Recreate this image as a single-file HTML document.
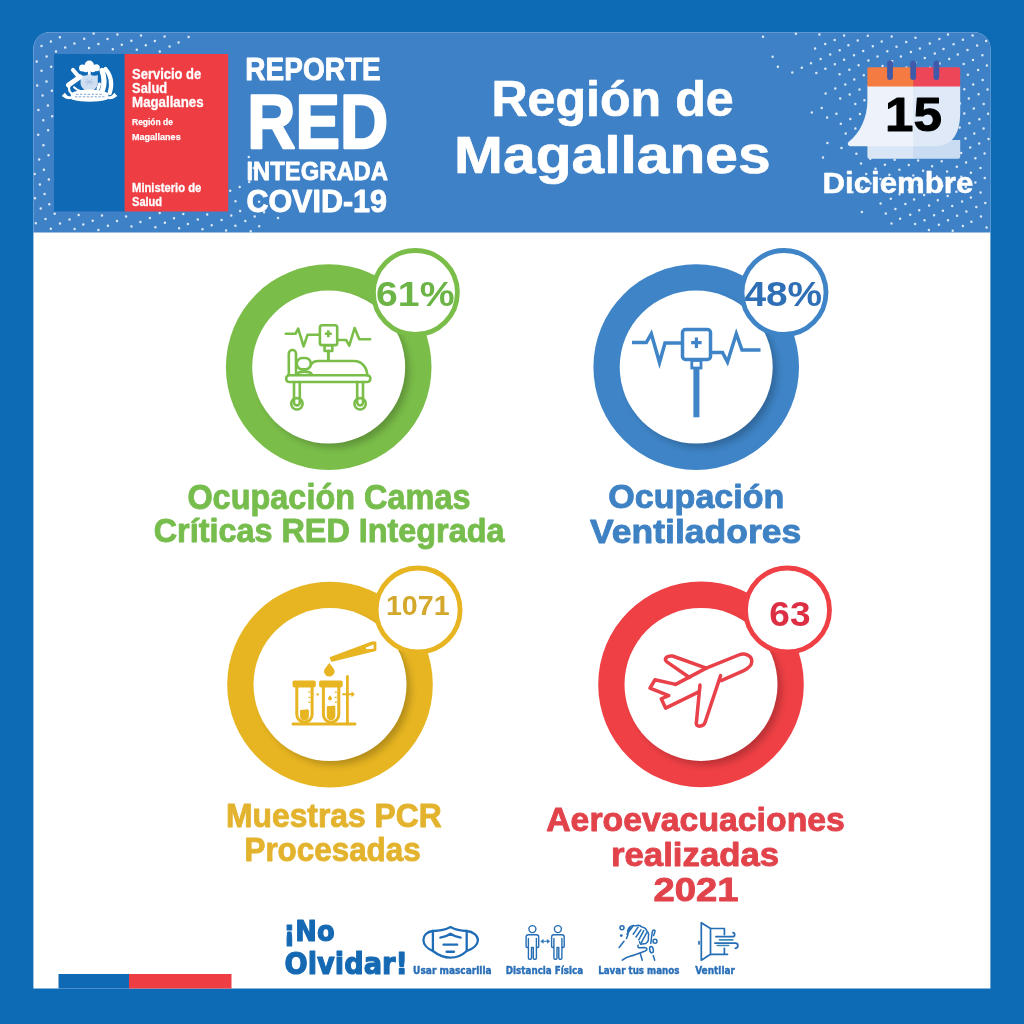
<!DOCTYPE html>
<html lang="es"><head><meta charset="utf-8"><title>Reporte RED Integrada COVID-19</title>
<style>
html,body{margin:0;padding:0;background:#0d6bb6;}
body{width:1024px;height:1024px;overflow:hidden;font-family:'Liberation Sans', sans-serif;}
svg{display:block;font-family:'Liberation Sans', sans-serif;}
</style></head><body>
<svg width="1024" height="1024" viewBox="0 0 1024 1024">
<defs>
<filter id="sh" x="-30%" y="-30%" width="160%" height="160%"><feGaussianBlur stdDeviation="3.5"/></filter>
<clipPath id="card"><path d="M33.400 988.600V48.300a16 16 0 0 1 16-16H974.400a16 16 0 0 1 16 16V988.600z"/></clipPath>
</defs>
<rect width="1024" height="1024" fill="#0d6bb6"/>
<g clip-path="url(#card)">
<rect x="33" y="32" width="958" height="957" fill="#fff"/>
<rect x="33" y="32" width="958" height="200.500" fill="#3e81c7"/>
<path d="M188.6 37.1h0M248.8 157.1h0M253.7 167.9h0M278.0 217.9h0M178.6 42.4h0M249.2 182.1h0M259.1 201.7h0M264.1 212.2h0M164.6 36.5h0M169.6 46.4h0M239.7 186.9h0M249.9 206.9h0M254.7 216.6h0M259.2 226.2h0M154.9 40.9h0M159.8 51.4h0M230.2 190.7h0M235.5 201.3h0M240.1 211.1h0M245.3 221.1h0M250.7 231.3h0M141.0 35.4h0M145.8 45.2h0M231.3 215.6h0M235.4 225.8h0M131.4 40.7h0M136.8 49.8h0M221.6 219.9h0M226.1 230.4h0M117.4 34.6h0M121.8 44.7h0M207.2 214.5h0M211.7 225.2h0M107.5 38.9h0M112.8 49.2h0M197.8 219.4h0M202.5 229.2h0M93.7 33.6h0M98.4 44.0h0M183.3 213.9h0M187.9 224.0h0M84.2 38.7h0M89.0 48.0h0M174.0 218.3h0M179.1 228.3h0M74.4 43.4h0M159.7 213.1h0M164.9 222.7h0M59.9 37.3h0M65.2 47.6h0M149.9 217.9h0M155.4 227.2h0M50.9 41.6h0M56.0 51.6h0M140.4 222.0h0M36.3 36.2h0M41.5 46.1h0M46.6 56.5h0M51.2 66.7h0M126.1 216.6h0M131.5 226.6h0M36.7 61.6h0M41.5 70.7h0M46.5 81.4h0M51.9 90.8h0M117.0 221.1h0M37.2 85.6h0M42.6 95.6h0M47.9 105.5h0M52.2 116.2h0M102.0 215.4h0M107.9 225.8h0M38.4 110.1h0M43.3 120.3h0M48.1 130.3h0M92.7 220.7h0M98.4 229.9h0M38.2 134.7h0M43.4 145.2h0M48.5 155.3h0M78.7 215.1h0M83.3 224.5h0M39.2 159.4h0M43.9 169.7h0M48.8 179.4h0M69.5 219.4h0M74.6 228.9h0M34.7 174.0h0M39.9 184.4h0M44.6 194.1h0M49.3 204.3h0M54.7 213.8h0M60.0 223.5h0M35.0 198.2h0M40.7 208.4h0M45.5 218.9h0M50.8 228.8h0M35.8 223.3h0" stroke="#fff" stroke-opacity=".82" stroke-width="2.500" stroke-linecap="round" fill="none"/>
<path d="M986.2 41.1h0M972.6 35.6h0M977.1 45.5h0M982.4 55.2h0M986.9 65.4h0M962.9 39.8h0M967.5 50.0h0M973.0 59.9h0M978.1 70.0h0M982.7 79.9h0M987.5 89.4h0M948.0 34.5h0M953.6 44.3h0M957.8 54.5h0M963.7 64.0h0M967.9 74.7h0M973.2 84.6h0M978.6 94.2h0M983.7 104.0h0M988.1 113.8h0M939.4 39.0h0M943.5 48.9h0M949.2 58.9h0M954.4 68.9h0M958.9 79.3h0M964.3 89.2h0M968.8 98.5h0M973.8 108.6h0M979.4 119.3h0M983.6 128.4h0M988.5 139.1h0M929.8 43.5h0M934.8 53.6h0M939.6 63.6h0M944.1 73.1h0M949.1 83.4h0M955.0 93.6h0M960.0 103.6h0M964.3 113.6h0M969.4 123.3h0M974.3 133.4h0M979.2 143.6h0M984.6 153.5h0M915.5 37.8h0M919.9 48.4h0M924.8 57.9h0M930.1 67.8h0M935.2 77.7h0M939.8 87.9h0M945.4 98.2h0M950.5 108.4h0M954.8 118.1h0M959.7 127.5h0M965.5 138.4h0M970.2 147.5h0M975.4 158.2h0M980.5 168.1h0M984.8 177.9h0M906.2 42.0h0M910.9 52.0h0M915.3 62.7h0M920.4 72.8h0M925.8 82.8h0M930.5 92.2h0M935.3 102.8h0M940.8 112.3h0M945.6 123.0h0M950.5 132.4h0M955.7 142.3h0M961.1 153.0h0M966.1 162.4h0M970.9 172.8h0M975.4 182.6h0M980.6 192.6h0M985.3 202.9h0M891.7 36.6h0M896.5 46.8h0M900.9 56.6h0M906.5 67.4h0M911.0 76.9h0M916.5 87.3h0M921.2 96.6h0M925.8 107.0h0M931.6 117.5h0M936.1 126.8h0M941.6 137.0h0M946.6 146.6h0M951.0 157.0h0M956.8 166.7h0M961.3 176.8h0M965.8 187.0h0M970.9 197.4h0M976.3 207.0h0M981.0 216.6h0M986.6 227.5h0M881.7 41.5h0M887.3 51.3h0M892.2 61.3h0M896.9 71.7h0M901.6 81.3h0M907.1 91.4h0M912.2 101.4h0M916.5 111.9h0M921.9 121.9h0M927.1 131.6h0M932.4 141.3h0M936.5 151.4h0M941.7 161.3h0M947.1 171.4h0M951.5 181.8h0M956.4 191.8h0M962.1 201.5h0M966.4 211.4h0M971.4 221.7h0M867.8 35.8h0M872.8 46.2h0M877.5 56.5h0M882.6 65.9h0M887.9 76.1h0M892.6 85.8h0M897.7 95.8h0M902.1 106.5h0M907.3 115.8h0M912.2 125.7h0M917.1 136.6h0M922.6 146.0h0M927.5 156.1h0M932.1 166.3h0M937.0 176.5h0M942.4 185.7h0M947.7 196.1h0M952.2 206.0h0M957.1 215.8h0M962.9 226.1h0M857.7 40.6h0M863.2 51.1h0M868.4 60.4h0M872.9 70.8h0M878.1 80.6h0M883.3 90.4h0M887.8 100.4h0M893.5 110.8h0M897.9 120.3h0M903.3 130.3h0M907.6 140.5h0M913.1 151.1h0M918.1 160.4h0M923.1 170.7h0M927.8 180.2h0M933.4 190.9h0M937.8 200.3h0M942.9 210.7h0M948.0 220.3h0M952.7 230.8h0M844.1 35.4h0M848.4 45.3h0M854.0 55.3h0M858.6 65.2h0M863.8 75.3h0M868.9 85.5h0M873.7 94.8h0M878.5 105.5h0M883.9 115.1h0M888.8 125.6h0M893.4 135.0h0M899.1 145.6h0M903.5 154.9h0M908.8 165.1h0M913.3 175.4h0M918.5 185.1h0M924.1 194.9h0M929.1 205.4h0M934.1 215.3h0M938.9 224.8h0M834.7 40.0h0M839.7 50.2h0M844.1 59.7h0M849.4 69.7h0M854.3 79.4h0M859.5 89.6h0M864.4 100.3h0M869.8 109.3h0M874.7 120.2h0M879.3 129.4h0M884.1 139.4h0M888.9 149.7h0M894.7 159.7h0M899.4 169.7h0M903.9 179.5h0M908.8 189.9h0M914.1 199.4h0M919.2 210.2h0M924.5 220.2h0M928.9 230.1h0M819.4 34.5h0M825.2 44.0h0M830.2 54.5h0M834.8 64.2h0M839.6 74.2h0M845.3 84.6h0M849.7 94.4h0M855.3 103.9h0M859.9 114.1h0M865.0 124.2h0M870.1 133.9h0M874.7 144.8h0M880.1 153.9h0M884.9 164.8h0M889.4 174.7h0M894.7 184.6h0M899.5 194.3h0M905.4 203.9h0M910.2 214.8h0M915.1 224.1h0M815.1 48.4h0M820.6 59.0h0M825.4 68.7h0M835.3 88.6h0M840.2 98.5h0M850.3 119.1h0M855.4 128.5h0M870.3 158.8h0M875.5 168.7h0M880.4 179.0h0M885.3 188.5h0M890.8 198.7h0M895.4 209.0h0M900.1 218.7h0M795.9 33.7h0M811.0 63.3h0M816.3 73.0h0M825.6 93.6h0M836.4 113.7h0M840.8 123.7h0M845.7 133.5h0M851.2 143.5h0M856.4 153.7h0M861.0 163.4h0M866.2 173.9h0M870.6 183.5h0M880.6 203.6h0M885.8 213.4h0M891.5 223.6h0M801.8 67.7h0M821.7 107.9h0M827.1 117.5h0M841.5 147.9h0M861.8 187.6h0M792.3 72.4h0M811.8 112.6h0M827.4 143.0h0M852.6 192.2h0M861.9 212.1h0M763.0 36.8h0M772.6 56.7h0M777.9 66.7h0M823.0 157.4h0" stroke="#fff" stroke-opacity=".82" stroke-width="2.500" stroke-linecap="round" fill="none"/>
</g>
<rect x="54" y="54" width="71" height="157.500" fill="#0f69b4"/><rect x="124.600" y="54" width="103.600" height="157.500" fill="#ee3e44"/>
<g fill="#fff" stroke="none"><circle cx="89.300" cy="65.200" r="4.700"/><circle cx="82.500" cy="68" r="3.500"/><circle cx="96.300" cy="67.800" r="3.500"/><circle cx="85.800" cy="69.300" r="3"/><circle cx="92.800" cy="69.300" r="3"/><rect x="87.900" y="69" width="2.800" height="7"/><path d="M80.600 75c2.600 1 5.700 1 8.600-.7c2.900 1.700 6 1.700 8.600 .7v8.500c0 4.200-4.200 6.800-8.600 8.400c-4.400-1.600-8.600-4.200-8.600-8.400z" fill="#d0def1"/><path d="M86.500 79l5.500 6M92 79l-5.500 6M85 82h8.500" stroke="#a9c0e2" stroke-width="1" fill="none"/><g fill="none" stroke="#fff" stroke-linecap="round" stroke-linejoin="round"><path d="M73 70L79.300 77.300" stroke-width="4.200"/><path d="M79.800 77L68.500 85" stroke-width="5"/><path d="M69.200 86.500c-.6 2.800 .2 5 2 6.600" stroke-width="2.200"/><path d="M74 87.200c2 2 4.300 3.300 7 4" stroke-width="2"/><path d="M102 70.500c2.300 6.500 2.800 13 .6 19.500" stroke-width="5.200"/><path d="M105.500 69c5.500 6.500 7.200 14.500 4.200 24" stroke-width="4.200"/><path d="M99.500 84l-1.500 5" stroke-width="3"/></g><path d="M70.500 93.200c6-3 12.500-3.800 19.100-3.800s13.100 .8 19.100 3.800l-1.200 6.400c-5.500 1.600-11.300 2.200-17.900 2.200s-12.400-.6-17.900-2.200z"/><path d="M61.800 96l3-3.200l1.700 1.900c1.300 1.600 3.400 2 5.500 1.300l.6 2.600c-3 1.300-6.300 .8-8.500-1z"/><path d="M117.300 96l-3-3.200l-1.700 1.900c-1.300 1.600-3.400 2-5.500 1.300l-.6 2.600c3 1.300 6.300 .8 8.500-1z"/><path d="M76 94.300h27M75 96.800h29.500" stroke="#7ea6d8" stroke-width="1" stroke-dasharray="2.400 1.500" fill="none"/></g>
<path d="M867.4 140H913.9V158.8H869.4a2 2 0 0 1-2-2z" fill="#d9e6f6"/><path d="M913.3 140H960.2V156.8a2 2 0 0 1-2 2H913.3z" fill="#c9dcf2"/><path d="M867.4 86H913.9V146.3H851c-3 0-4.2-3-2.2-4.6C860 133 867.4 118 867.4 100z" fill="#eef3fb"/><path d="M913.3 86H960.2V112c0 22-8 34.3-26 34.3H913.3z" fill="#dfe9f7"/><path d="M867.4 86.5V69.3a2 2 0 0 1 2-2H913.9V86.5z" fill="#f47b42"/><path d="M913.3 67.3H958.2a2 2 0 0 1 2 2V86.5H913.3z" fill="#ee4659"/><rect x="887.1" y="60.5" width="5.8" height="19.5" rx="2.9" fill="#3f5aa8"/><rect x="910.3000000000001" y="60.5" width="5.8" height="19.5" rx="2.9" fill="#3f5aa8"/><rect x="933.5" y="60.5" width="5.8" height="19.5" rx="2.9" fill="#3f5aa8"/>
<defs><clipPath id="c328367"><circle cx="328.7" cy="367.1" r="102.800"/></clipPath></defs><circle cx="328.7" cy="367.1" r="102.800" fill="#7abd49"/><circle cx="333.7" cy="372.1" r="75.500" fill="#000" opacity=".22" filter="url(#sh)" clip-path="url(#c328367)"/><circle cx="328.7" cy="367.1" r="76.500" fill="#fff"/><circle cx="415.4" cy="292.5" r="42" fill="#fff" stroke="#7abd49" stroke-width="4.800"/>
<defs><clipPath id="c696367"><circle cx="696.2" cy="367.1" r="102.800"/></clipPath></defs><circle cx="696.2" cy="367.1" r="102.800" fill="#3e84c6"/><circle cx="701.2" cy="372.1" r="75.500" fill="#000" opacity=".22" filter="url(#sh)" clip-path="url(#c696367)"/><circle cx="696.2" cy="367.1" r="76.500" fill="#fff"/><circle cx="784" cy="292.5" r="42" fill="#fff" stroke="#3e84c6" stroke-width="4.800"/>
<defs><clipPath id="c330684"><circle cx="330" cy="684.6" r="102.800"/></clipPath></defs><circle cx="330" cy="684.6" r="102.800" fill="#e7b522"/><circle cx="335" cy="689.6" r="75.500" fill="#000" opacity=".22" filter="url(#sh)" clip-path="url(#c330684)"/><circle cx="330" cy="684.6" r="76.500" fill="#fff"/><circle cx="418.1" cy="610" r="42" fill="#fff" stroke="#e7b522" stroke-width="4.800"/>
<defs><clipPath id="c701684"><circle cx="701" cy="684.4" r="102.800"/></clipPath></defs><circle cx="701" cy="684.4" r="102.800" fill="#ee4045"/><circle cx="706" cy="689.4" r="75.500" fill="#000" opacity=".22" filter="url(#sh)" clip-path="url(#c701684)"/><circle cx="701" cy="684.4" r="76.500" fill="#fff"/><circle cx="787.5" cy="610" r="42" fill="#fff" stroke="#ee4045" stroke-width="4.800"/>
<g fill="none" stroke="#7abd49" stroke-width="2.600" stroke-linecap="round" stroke-linejoin="round"><path d="M285.8 333.8H295.5L298.2 328.6L303.6 346.4L307.6 334.7H319.8"/><rect x="319.9" y="325.3" width="17.3" height="19.8" rx="2.2"/><path d="M328.3 330.3v7M324.8 333.8h7" stroke-width="2.6" stroke-linecap="butt"/><path d="M337.2 340H346.1L349.3 345.6L354.6 328L359.3 339.2H370.2"/><rect x="324.6" y="345.2" width="7.7" height="5.8"/><path d="M328.4 351V360.5" stroke-width="3"/><path d="M288.8 375V353.6a3.6 3.6 0 0 1 7.200 0V375"/><rect x="296.800" y="358" width="14" height="11.400" rx="5.500"/><path d="M297.300 374.200c1.500-3.400 12.500-3.400 14.400 0"/><path d="M310.900 364.800c1.500-2.600 4-3.800 7.300-3.800H354c7.500 0 13.200 6 13.200 14.200"/><rect x="286.200" y="375.300" width="84.100" height="6.700" rx="3"/><path d="M296 375.300H356M361 375.300H367" stroke-width="1.500"/><path d="M294 382V402.500a2.900 2.900 0 0 0 5.800 0V382M357.200 382V402.500a2.900 2.900 0 0 0 5.800 0V382"/><circle cx="296.900" cy="403.800" r="5.700"/><circle cx="360.100" cy="403.800" r="5.700"/></g>
<g fill="none" stroke="#3e84c6" stroke-width="3.5" stroke-linejoin="miter"><path d="M632 342.500H646.300L651.300 333.800L659.500 362.500L665 343H682.500"/><rect x="682.500" y="329.500" width="28" height="30" rx="3"/><path d="M696.400 337.500v10.400M691.200 342.700h10.400" stroke-width="3.200"/><path d="M710.500 352.500H722.500L727.500 362L736.300 333.800L742 350H760.500"/><rect x="691.800" y="360.500" width="9.200" height="7.500" stroke-width="2.800"/><path d="M696.400 368V417.300" stroke-width="6"/></g>
<g fill="none" stroke="#e7b522" stroke-width="3" stroke-linejoin="round" stroke-linecap="round"><path d="M330.500 657.800L372 642.300H375.600V650.300L331.800 661z" fill="#e7b522" stroke-width="1.600"/><path d="M366 647.600L373.600 644.400V648.700L366 649.300z" fill="#fff" stroke="none"/><path d="M329.300 663c2.800 3.600 5.300 6 5.300 8.300a5.300 5.300 0 0 1-10.600 0c0-2.300 2.500-4.700 5.300-8.300z" fill="#e7b522" stroke="none"/><rect x="292.500" y="680.500" width="23.300" height="6.900" rx="1.800" fill="#e7b522" stroke="none"/><path d="M296.800 687V714.500a7.650 7.650 0 0 0 15.300 0V687"/><path d="M300 710.500c1.500-1.500 3-.2 4.400-.8s3-1 4.500.3V716a4.450 4.450 0 0 1-8.900 0z" fill="#e7b522" stroke="none"/><path d="M308.400 692.100h2M308.400 697.400h2M308.400 702.100h2" stroke-width="1.400" stroke-linecap="butt"/><rect x="319.100" y="680.500" width="23.600" height="6.900" rx="1.800" fill="#e7b522" stroke="none"/><path d="M323.400 687V714.500a7.700 7.700 0 0 0 15.400 0V687"/><path d="M326.800 706.500c1.500-1.200 2.800-.2 4.200-.6s2.800-.9 4.300.2V716a4.250 4.250 0 0 1-8.500 0z" fill="#e7b522" stroke="none"/><path d="M330 695.200c1 1.500 1.900 2.300 1.900 3.300a1.900 1.900 0 0 1-3.800 0c0-1 .9-1.800 1.900-3.300z" fill="#e7b522" stroke="none"/><path d="M334.800 692.100h2M334.800 697.400h2M334.800 702.100h2" stroke-width="1.400" stroke-linecap="butt"/><circle cx="317.700" cy="694.400" r="1.200" fill="#e7b522" stroke="none"/><path d="M293 724H355"/><path d="M347.400 676.500V724" stroke-width="2.800"/><path d="M343 694.200H353" stroke-width="2"/><path d="M351.500 691.200L354.800 694.200L351.500 697.200z" fill="#e7b522" stroke="none"/></g>
<g fill="none" stroke="#e8414a" stroke-width="3.500" stroke-linejoin="round" stroke-linecap="round"><path d="M675.600 684.400L706.250 668.100L738.750 655C745 652.500 752 655.500 751.800 661.500C751.600 666 748 668.500 743.750 670.600L721.250 680.600"/><path d="M720.600 675.600L705 722.500C703.800 726.500 697 727.500 696.250 723.750L700 685"/><path d="M698.750 691.900L665.600 708.100L661.250 698.750L668.750 695.600L650 688.100L655 679.750L675.600 684.400"/><path d="M689.400 677.500L666.900 661.900C664 659.500 665.500 655.500 672.500 656L706.250 668.100"/></g>
<rect x="58.500" y="974" width="71" height="14.500" fill="#0f69b4"/><rect x="129" y="974" width="102.500" height="14.500" fill="#ee3e44"/>
<g fill="none" stroke="#1f6db6" stroke-width="2.300" stroke-linecap="round" stroke-linejoin="round"><path d="M432.900 931c6.500 0 11.500-.4 17.600-3.900c6.100 3.500 11.100 3.900 16.200 3.900V951c-3.500 3.400-9.500 6.700-16.200 6.700s-13.200-3.300-17.600-6.700z"/><path d="M432.900 931c-6 .6-9.500 4.500-9.500 9s4 8.800 9.500 11M466.700 931c6.500 .6 11.200 4.500 11.200 9s-4.700 8.800-11.200 11"/><path d="M440.300 937.700c4-.6 7-1.800 10.200-4c3.200 2.200 6.200 3.400 10.200 4M443.500 944.700h13.700"/><path d="M446.800 951.800h7" stroke-width="2.600"/></g><g fill="none" stroke="#256db4" stroke-width="1.400" stroke-linecap="round" stroke-linejoin="round"><circle cx="532.4" cy="929.100" r="3.500"/><path d="M526.1 946.300V937a2.300 2.300 0 0 1 2.300-2.300H536.4a2.300 2.300 0 0 1 2.300 2.300V946.300a1.150 1.150 0 0 1-2.300 0V938.500M526.1 946.300a1.150 1.150 0 0 0 2.300 0V938.500M528.4 946.500V958a1.200 1.200 0 0 0 1.200 1.200H530.3a1.200 1.200 0 0 0 1.200-1.200V947.500H533.3V958a1.200 1.200 0 0 0 1.200 1.200H535.1999999999999a1.200 1.200 0 0 0 1.200-1.200V946.500"/><circle cx="557.9" cy="929.100" r="3.500"/><path d="M551.6 946.300V937a2.300 2.300 0 0 1 2.300-2.300H561.9a2.300 2.300 0 0 1 2.300 2.300V946.300a1.150 1.150 0 0 1-2.300 0V938.500M551.6 946.300a1.150 1.150 0 0 0 2.300 0V938.500M553.9 946.500V958a1.200 1.200 0 0 0 1.200 1.200H555.8a1.200 1.200 0 0 0 1.200-1.200V947.500H558.8V958a1.200 1.200 0 0 0 1.200 1.200H560.6999999999999a1.200 1.200 0 0 0 1.200-1.200V946.500"/><path d="M542.300 941.200H548.200" stroke-width="1.100"/><path d="M541 941.200l2.200-1.700v3.400zM549.500 941.200l-2.200-1.700v3.400z" fill="#256db4" stroke-width=".6"/></g><g fill="none" stroke="#256db4" stroke-width="1.500" stroke-linecap="round" stroke-linejoin="round"><circle cx="622" cy="927.800" r="2"/><circle cx="655" cy="941.200" r="2"/><circle cx="621.300" cy="935.600" r="1.400" fill="#256db4" stroke="none"/><path d="M624 941.200L619.100 947.500"/><path d="M626.500 938.500l1.500-4c-.8-2.200-.5-4.500 .8-6.600c2-2.300 4.500-2.900 7-2c2.200-1 4.500-.6 6 1.200c2.500 .2 4.200 1.700 5 3.800c1.800 1.800 2.200 4 1.500 6.500c.5 2.500-.3 4.600-2.500 6l-5.300 .8l-1-2.500"/><path d="M633.200 925.700L626.900 934.200M638.100 927.100L633.200 934.200M640.900 929.900L636 937M643.800 930.700L638.800 939.800M646.600 932.800L640.900 943.300M630 927L628 932"/><path d="M622.300 960.200C625 958 627 957 630 956.300S639.500 953.200 645.200 951C648 949.500 647.500 947.600 644 947.500L638.400 947.700C637.500 947 637.800 946 638.200 945.200"/><path d="M640.200 953.200L642.300 960.200M653.200 955.600L654.700 960.200"/><path d="M650.800 943.300L652.200 932C652.500 929.500 655.300 929.300 655 931.600L653.600 935.600"/><ellipse cx="651.500" cy="949.600" rx="1.800" ry="3.200" transform="rotate(-12 651.500 949.600)"/></g><g fill="none" stroke="#256db4" stroke-width="1.700" stroke-linecap="round" stroke-linejoin="round"><path d="M701.300 922.700L710.500 928.500V954.300L701.300 960.200z"/><path d="M710.500 928.500H724.400V934.600M724.400 948.300V954.300M710.500 954.300H727.500"/><path d="M699 941.500V944"/><path d="M715.900 936.700H732.800C735 936.700 735.500 933 733 932.600M714.900 943.100H735.300C738.500 943.100 739 947.600 735.300 948.300"/><path d="M719.500 939.800H732.800M717.300 945.500H728.600" stroke="#3b8bb5"/></g>
<text x="132.07" y="79.35" font-size="14.00" font-weight="bold" fill="#fff" stroke="#fff" stroke-width="0.3" stroke-linejoin="round" textLength="69.17" lengthAdjust="spacingAndGlyphs">Servicio de</text>
<text x="132.06" y="93.35" font-size="14.00" font-weight="bold" fill="#fff" stroke="#fff" stroke-width="0.3" stroke-linejoin="round" textLength="35.09" lengthAdjust="spacingAndGlyphs">Salud</text>
<text x="132.08" y="107.35" font-size="14.00" font-weight="bold" fill="#fff" stroke="#fff" stroke-width="0.3" stroke-linejoin="round" textLength="71.55" lengthAdjust="spacingAndGlyphs">Magallanes</text>
<text x="132.03" y="125.08" font-size="9.64" font-weight="bold" fill="#fff" stroke="#fff" stroke-width="0.25" stroke-linejoin="round" textLength="40.93" lengthAdjust="spacingAndGlyphs">Región de</text>
<text x="132.04" y="139.57" font-size="9.64" font-weight="bold" fill="#fff" stroke="#fff" stroke-width="0.25" stroke-linejoin="round" textLength="48.62" lengthAdjust="spacingAndGlyphs">Magallanes</text>
<text x="132.07" y="191.65" font-size="12.00" font-weight="bold" fill="#fff" stroke="#fff" stroke-width="0.3" stroke-linejoin="round" textLength="69.17" lengthAdjust="spacingAndGlyphs">Ministerio de</text>
<text x="132.05" y="205.55" font-size="12.00" font-weight="bold" fill="#fff" stroke="#fff" stroke-width="0.3" stroke-linejoin="round" textLength="30.07" lengthAdjust="spacingAndGlyphs">Salud</text>
<text x="245.37" y="80.15" font-size="32.14" font-weight="bold" fill="#fff" stroke="#fff" stroke-width="0.9" stroke-linejoin="round" textLength="135.45" lengthAdjust="spacingAndGlyphs">REPORTE</text>
<text x="247.35" y="148.20" font-size="76.14" font-weight="bold" fill="#fff" stroke="#fff" stroke-width="2.4" stroke-linejoin="round" textLength="140.73" lengthAdjust="spacingAndGlyphs">RED</text>
<text x="246.38" y="180.20" font-size="26.14" font-weight="bold" fill="#fff" stroke="#fff" stroke-width="0.8" stroke-linejoin="round" textLength="141.63" lengthAdjust="spacingAndGlyphs">INTEGRADA</text>
<text x="246.38" y="211.85" font-size="30.57" font-weight="bold" fill="#fff" stroke="#fff" stroke-width="0.9" stroke-linejoin="round" textLength="140.63" lengthAdjust="spacingAndGlyphs">COVID-19</text>
<text x="491.44" y="116.45" font-size="50.14" font-weight="bold" fill="#fff" stroke="#fff" stroke-width="0.7" stroke-linejoin="round" textLength="242.18" lengthAdjust="spacingAndGlyphs">Región de</text>
<text x="454.14" y="172.65" font-size="52.43" font-weight="bold" fill="#fff" stroke="#fff" stroke-width="0.7" stroke-linejoin="round" textLength="316.50" lengthAdjust="spacingAndGlyphs">Magallanes</text>
<text x="822.57" y="193.05" font-size="28.57" font-weight="bold" fill="#fff" stroke="#fff" stroke-width="0.5" stroke-linejoin="round" textLength="150.75" lengthAdjust="spacingAndGlyphs">Diciembre</text>
<text x="885.13" y="131.30" font-size="48.86" font-weight="bold" fill="#000" stroke="#000" stroke-width="1.0" stroke-linejoin="round" textLength="56.89" lengthAdjust="spacingAndGlyphs">15</text>
<text x="376.06" y="306.30" font-size="35.71" font-weight="bold" fill="#6bb445" textLength="78.48" lengthAdjust="spacingAndGlyphs">61%</text>
<text x="744.46" y="306.30" font-size="35.71" font-weight="bold" fill="#2f6fb6" textLength="77.67" lengthAdjust="spacingAndGlyphs">48%</text>
<text x="385.91" y="615.00" font-size="26.71" font-weight="bold" fill="#d3a82c" textLength="63.65" lengthAdjust="spacingAndGlyphs">1071</text>
<text x="769.37" y="625.50" font-size="34.57" font-weight="bold" fill="#dc2f44" textLength="41.27" lengthAdjust="spacingAndGlyphs">63</text>
<text x="187.39" y="508.55" font-size="34.29" font-weight="bold" fill="#77bd4d" stroke="#77bd4d" stroke-width="0.9" stroke-linejoin="round" textLength="283.13" lengthAdjust="spacingAndGlyphs">Ocupación Camas</text>
<text x="153.70" y="541.95" font-size="33.29" font-weight="bold" fill="#77bd4d" stroke="#77bd4d" stroke-width="0.9" stroke-linejoin="round" textLength="350.81" lengthAdjust="spacingAndGlyphs">Críticas RED Integrada</text>
<text x="608.38" y="508.35" font-size="33.57" font-weight="bold" fill="#3e82c4" stroke="#3e82c4" stroke-width="0.9" stroke-linejoin="round" textLength="175.94" lengthAdjust="spacingAndGlyphs">Ocupación</text>
<text x="590.07" y="543.35" font-size="33.86" font-weight="bold" fill="#3e82c4" stroke="#3e82c4" stroke-width="0.9" stroke-linejoin="round" textLength="211.17" lengthAdjust="spacingAndGlyphs">Ventiladores</text>
<text x="226.07" y="826.55" font-size="33.29" font-weight="bold" fill="#e3b32e" stroke="#e3b32e" stroke-width="0.9" stroke-linejoin="round" textLength="215.64" lengthAdjust="spacingAndGlyphs">Muestras PCR</text>
<text x="244.47" y="861.05" font-size="33.86" font-weight="bold" fill="#e3b32e" stroke="#e3b32e" stroke-width="0.9" stroke-linejoin="round" textLength="176.25" lengthAdjust="spacingAndGlyphs">Procesadas</text>
<text x="546.19" y="831.05" font-size="33.29" font-weight="bold" fill="#e2434b" stroke="#e2434b" stroke-width="0.9" stroke-linejoin="round" textLength="298.71" lengthAdjust="spacingAndGlyphs">Aeroevacuaciones</text>
<text x="610.97" y="865.95" font-size="33.57" font-weight="bold" fill="#e2434b" stroke="#e2434b" stroke-width="0.9" stroke-linejoin="round" textLength="168.17" lengthAdjust="spacingAndGlyphs">realizadas</text>
<text x="653.44" y="900.75" font-size="33.29" font-weight="bold" fill="#e2434b" stroke="#e2434b" stroke-width="0.9" stroke-linejoin="round" textLength="85.12" lengthAdjust="spacingAndGlyphs">2021</text>
<text x="283.58" y="940.80" font-size="27.89" font-weight="bold" fill="#1569b3" stroke="#1569b3" stroke-width="1.2" stroke-linejoin="round" font-family="DejaVu Sans, sans-serif" textLength="51.13" lengthAdjust="spacingAndGlyphs">¡No</text>
<text x="284.57" y="973.90" font-size="30.07" font-weight="bold" fill="#1569b3" stroke="#1569b3" stroke-width="1.2" stroke-linejoin="round" font-family="DejaVu Sans, sans-serif" textLength="123.38" lengthAdjust="spacingAndGlyphs">Olvidar!</text>
<text x="413.08" y="974.00" font-size="10.07" font-weight="bold" fill="#2a6fb7" stroke="#2a6fb7" stroke-width="0.4" stroke-linejoin="round" font-family="DejaVu Sans, sans-serif" textLength="78.55" lengthAdjust="spacingAndGlyphs">Usar mascarilla</text>
<text x="505.75" y="974.00" font-size="10.07" font-weight="bold" fill="#2a6fb7" stroke="#2a6fb7" stroke-width="0.4" stroke-linejoin="round" font-family="DejaVu Sans, sans-serif" textLength="77.49" lengthAdjust="spacingAndGlyphs">Distancia Física</text>
<text x="598.19" y="974.00" font-size="10.07" font-weight="bold" fill="#2a6fb7" stroke="#2a6fb7" stroke-width="0.4" stroke-linejoin="round" font-family="DejaVu Sans, sans-serif" textLength="81.23" lengthAdjust="spacingAndGlyphs">Lavar tus manos</text>
<text x="695.16" y="974.00" font-size="10.07" font-weight="bold" fill="#2a6fb7" stroke="#2a6fb7" stroke-width="0.4" stroke-linejoin="round" font-family="DejaVu Sans, sans-serif" textLength="39.74" lengthAdjust="spacingAndGlyphs">Ventilar</text>
</svg></body></html>
